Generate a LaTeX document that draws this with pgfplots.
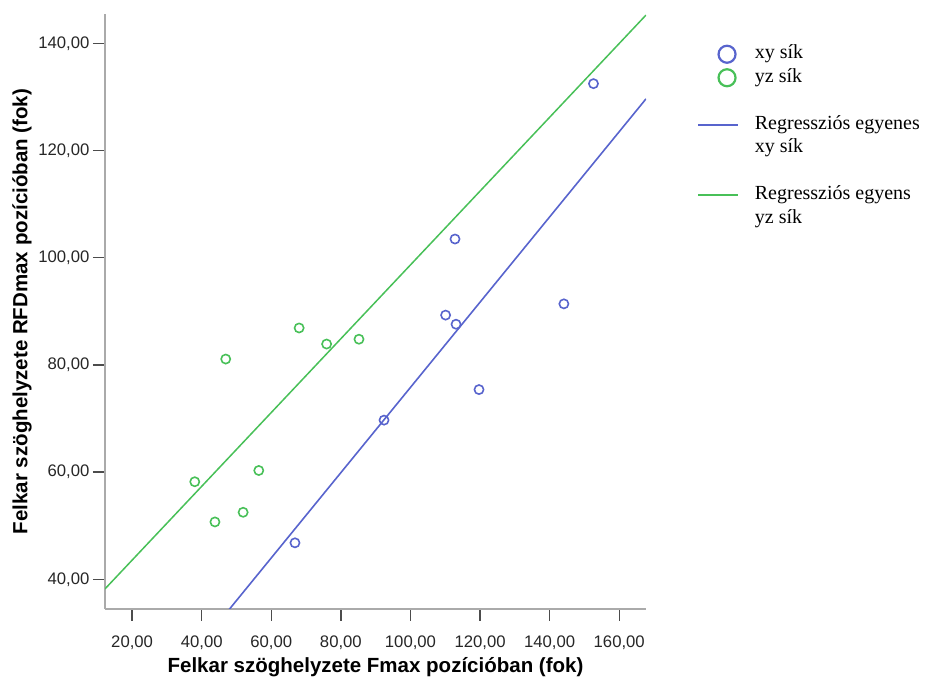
\documentclass[border=0pt]{standalone}
\usepackage{fontspec}
\setmainfont{Liberation Sans}
\newfontfamily\legfont{Liberation Serif}
\usepackage{pgfplots}
\pgfplotsset{compat=1.18}

\definecolor{xyblue}{RGB}{88,100,205}
\definecolor{yzgreen}{RGB}{72,192,88}
\definecolor{axgray}{RGB}{170,170,170}

% scatter data
\pgfplotstableread{
x y
152.6 132.5
112.8 103.5
110.1 89.3
113.1 87.6
119.7 75.4
144.1 91.4
92.4 69.7
66.8 46.8
}\xydata
\pgfplotstableread{
x y
46.9 81.1
68.0 86.9
75.9 83.9
85.2 84.8
38.0 58.2
56.4 60.3
51.9 52.5
43.8 50.7
}\yzdata

\begin{document}
\begin{tikzpicture}[x=1pt,y=1pt]
\path[use as bounding box] (0,0) rectangle (925,679);
\begin{axis}[
    at={(105pt,70pt)}, anchor=south west,
    scale only axis, width=541pt, height=595pt,
    xmin=12.2, xmax=167.7, ymin=34.45, ymax=145.5,
    axis lines*=left,
    axis line style={axgray, line width=2pt},
    xtick={20,40,...,160}, ytick={40,60,...,140},
    tick align=outside, major tick length=12pt,
    tick style={black!70, line width=1.4pt},
    /pgf/number format/.cd, fixed, fixed zerofill, precision=2, use comma, assume math mode=true,
    /pgfplots/.cd,
    ticklabel style={font=\fontsize{16.7}{20}\selectfont, text=black!85},
    xticklabel style={yshift=-11pt},
    xlabel={Felkar szöghelyzete Fmax pozícióban (fok)},
    ylabel={Felkar szöghelyzete RFDmax pozícióban (fok)},
    label style={font=\bfseries\fontsize{20.5}{24}\selectfont},
    xlabel style={at={(axis description cs:0.5,-0.0975)}, anchor=center},
    ylabel style={at={(axis description cs:-0.1534,0.5)}, anchor=center, rotate=0},
    legend style={at={(1.0887,0.9558)}, anchor=north west, draw=none, fill=none,
        font=\legfont\fontsize{20}{23.5}\selectfont,
        nodes={inner sep=0pt, text height=16.5pt, text depth=7pt},
        column sep=16pt, row sep=0pt},
    legend cell align=left,
]
% regression lines
\addplot[xyblue, line width=1.6pt, forget plot] coordinates {(12.2,5.97) (167.7,129.66)};
\addplot[yzgreen, line width=1.5pt, forget plot] coordinates {(12.2,38.2) (167.7,145.3)};
% scatter points
\addplot[only marks, mark=o, xyblue, mark size=4.6pt, mark options={line width=1.6pt}, forget plot] table {\xydata};
\addplot[only marks, mark=o, yzgreen, mark size=4.6pt, mark options={line width=1.6pt}, forget plot] table {\yzdata};

% legend
\addlegendimage{xyblue, legend image code/.code={\path[draw=none] (0pt,0pt) -- (40pt,0pt);
    \draw[xyblue, line width=2.2pt] (29pt,0pt) circle[radius=8.5pt];}}
\addlegendentry{xy sík}
\addlegendimage{yzgreen, legend image code/.code={\path[draw=none] (0pt,0pt) -- (40pt,0pt);
    \draw[yzgreen, line width=2.2pt] (29pt,0pt) circle[radius=8.5pt];}}
\addlegendentry{yz sík}
\addlegendimage{empty legend}
\addlegendentry{}
\addlegendimage{xyblue, legend image code/.code={\draw[xyblue, line width=1.7pt] (0pt,0pt) -- (40pt,0pt);}}
\addlegendentry{Regressziós egyenes}
\addlegendimage{empty legend}
\addlegendentry{xy sík}
\addlegendimage{empty legend}
\addlegendentry{}
\addlegendimage{yzgreen, legend image code/.code={\draw[yzgreen, line width=1.7pt] (0pt,0pt) -- (40pt,0pt);}}
\addlegendentry{Regressziós egyens}
\addlegendimage{empty legend}
\addlegendentry{yz sík}
\end{axis}
\end{tikzpicture}
\end{document}
